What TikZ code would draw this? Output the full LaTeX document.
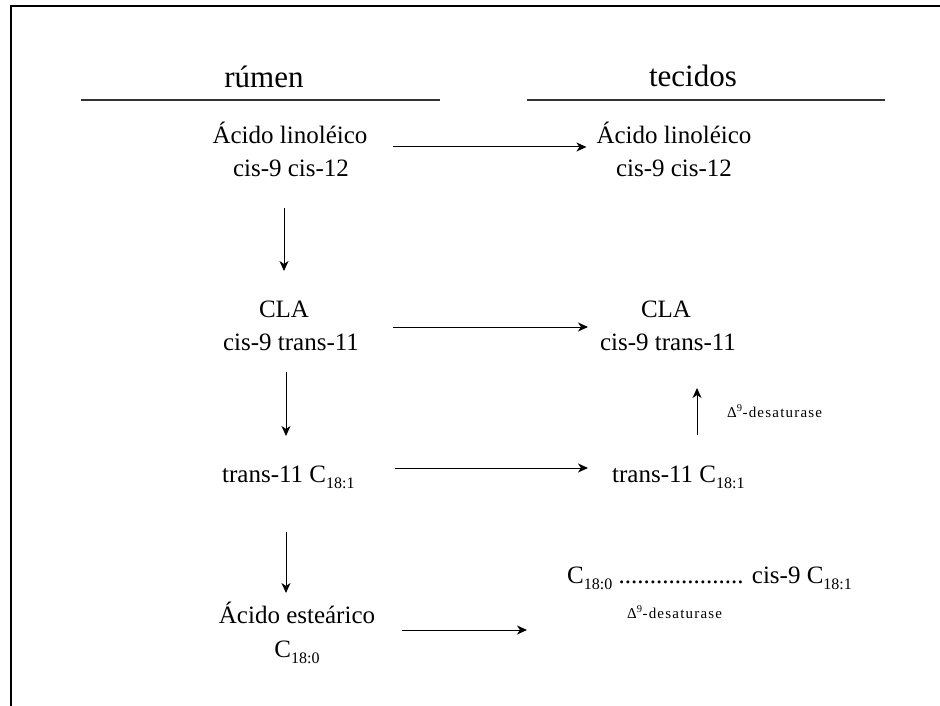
\documentclass[tikz,border=0pt]{standalone}
\usepackage{fontspec}
\setmainfont{Liberation Serif}
\usetikzlibrary{arrows.meta}
\newcommand{\subs}[1]{\raisebox{-6pt}{\fontsize{16}{16}\selectfont #1}}
\begin{document}
\begin{tikzpicture}[x=1pt,y=-1pt,
  txt/.style={font=\fontsize{25}{30}\selectfont, inner sep=0pt, anchor=base},
  head/.style={font=\fontsize{31}{36}\selectfont, inner sep=0pt, anchor=base},
  txtw/.style={txt, anchor=base west},
  lbl/.style={font=\fontsize{15}{18}\selectfont\addfontfeature{LetterSpace=8}, inner sep=0pt, anchor=base west},
  arr/.style={line width=1pt, -{Stealth[length=10pt,width=9pt,inset=3pt]}},
  rulel/.style={line width=1.2pt, black!80},
  framel/.style={line width=2pt}]
\useasboundingbox (0,0) rectangle (940,706);
\fill[white] (0,0) rectangle (940,706);
\draw[framel] (11,706) -- (11,6) -- (940,6);

% headers
\node[head] (rumen) at (264,88) {rúmen};
\node[head] (tecidos) at (693,87) {tecidos};
\draw[rulel] (81,100) -- (440,100);
\draw[rulel] (527,100) -- (885,100);

% row 1
\node[txt] (L1a) at (290,144) {Ácido linoléico};
\node[txt] (L1b) at (291,177) {cis-9 cis-12};
\node[txt] (R1a) at (674,144) {Ácido linoléico};
\node[txt] (R1b) at (674,177) {cis-9 cis-12};

% row 2
\node[txt] (L2a) at (284,317) {CLA};
\node[txt] (L2b) at (291,350) {cis-9 trans-11};
\node[txt] (R2a) at (666,317) {CLA};
\node[txt] (R2b) at (668,350) {cis-9 trans-11};

% row 3
\node[txtw] (L3) at (222,482) {trans-11 C\subs{18:1}};
\node[txtw] (R3) at (612,482) {trans-11 C\subs{18:1}};
\node[lbl] (D1) at (727,417) {Δ\textsuperscript{9}-desaturase};

% row 4
\node[txt] (L4a) at (297,623) {Ácido esteárico};
\node[txt] (L4b) at (297,657) {C\subs{18:0}};
\node[txtw] (R4) at (567,583) {C\subs{18:0} .................... cis-9 C\subs{18:1}};
\node[lbl] (D2) at (627,618) {Δ\textsuperscript{9}-desaturase};

% horizontal arrows
\draw[arr] ([xshift=25pt,yshift=-3pt]L1a.base east) -- ([xshift=-10pt,yshift=-3pt]R1a.base west);
\draw[arr] ([xshift=102pt,yshift=23pt]L2b.base) -- ([xshift=-80pt,yshift=23pt]R2b.base);
\draw[arr] ([xshift=173pt,yshift=14pt]L3.base west) -- ([xshift=-24pt,yshift=14pt]R3.base west);
\draw[arr] ([xshift=105pt,yshift=-7pt]L4a.base) -- ([xshift=-40pt,yshift=-47pt]R4.base west);

% vertical arrows
\draw[arr] ([xshift=-7pt,yshift=-31pt]L1b.base) -- ([yshift=46pt]L2a.base);
\draw[arr] ([xshift=-5pt,yshift=-22pt]L2b.base) -- ([xshift=64pt,yshift=46pt]L3.base west);
\draw[arr] ([xshift=64pt,yshift=-50pt]L3.base west) -- ([xshift=-11pt,yshift=30pt]L4a.base);
\draw[arr] ([xshift=85pt,yshift=47pt]R3.base west) -- ([xshift=29pt,yshift=-38pt]R2b.base);
\end{tikzpicture}
\end{document}
